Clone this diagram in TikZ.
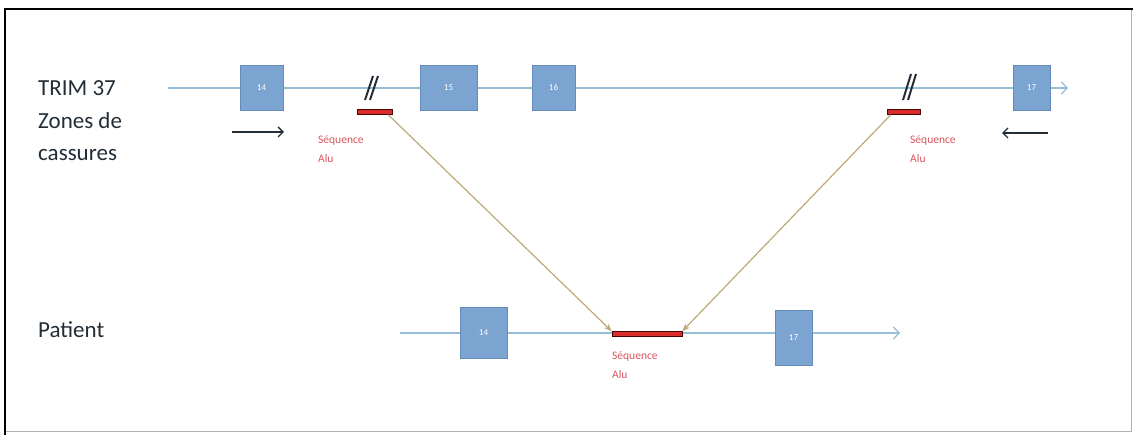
\documentclass[tikz,border=0pt]{standalone}
\usepackage{fontspec}
\setmainfont{Carlito}
\usetikzlibrary{arrows.meta}
\definecolor{azulcaixa}{RGB}{124,164,208}
\definecolor{bordacaixa}{RGB}{100,140,185}
\definecolor{azullinha}{RGB}{150,190,215}
\definecolor{vermelhoalu}{RGB}{215,45,45}
\definecolor{textoalu}{RGB}{215,85,95}
\definecolor{oliva}{RGB}{190,170,120}
\definecolor{escuro}{RGB}{35,45,55}
\tikzset{
  exon/.style={draw=bordacaixa, fill=azulcaixa, rectangle, minimum height=45pt, inner sep=0pt, text=white, font=\fontsize{9}{10}\selectfont},
  linha/.style={azullinha, line width=1.2pt, -{Straight Barb[length=6pt, width=12pt, line width=1.2pt]}},
  alubar/.style={draw=black!70!red, fill=vermelhoalu, rectangle, minimum height=5pt, inner sep=0pt},
  alutexto/.style={text=textoalu, align=left, anchor=north west, inner sep=0pt, font=\fontsize{11.5}{19}\selectfont},
  rotulo/.style={text=escuro, anchor=west, inner sep=0pt, font=\fontsize{23}{26}\selectfont},
  quebra/.style={escuro, line width=2pt},
  ligacao/.style={oliva, line width=1.2pt, -{Stealth[length=8pt, width=6pt]}}
}
\begin{document}
\begin{tikzpicture}[x=1pt, y=-1pt]
    \useasboundingbox (0,0) rectangle (1133,435);
    % Moldura
    \draw[black!30, line width=1pt] (1131,9) -- (1131,432) -- (5,432);
    \draw[black, line width=2.5pt] (1133,9) -- (5,9) -- (5,435);

    % Rótulos
    \node[rotulo] (trim) at (38,88) {TRIM 37};
    \node[rotulo] (zones) at (38,121) {Zones de};
    \node[rotulo] (cass) at (38,155) {cassures};
    \node[rotulo] (patient) at (38,330) {Patient};

    % Linha de cima
    \coordinate (ini1) at (168,88);
    \coordinate (fim1) at (1068,88);
    \draw[linha] (ini1) -- (fim1);
    \node[exon, minimum width=43pt] (e14) at (261.5,87.5) {14};
    \node[exon, minimum width=57pt] (e15) at (448.5,87.5) {15};
    \node[exon, minimum width=43pt] (e16) at (553.5,87.5) {16};
    \node[exon, minimum width=37pt] (e17) at (1031.5,87.5) {17};

    % Zonas de quebra
    \draw[quebra] (365,100) -- (373,76) (370,100) -- (378,76);
    \draw[quebra] (903,100) -- (911,74) (908,100) -- (916,74);
    \node[alubar, minimum width=35pt] (alu1) at (374.5,112) {};
    \node[alubar, minimum width=33pt] (alu2) at (903.5,112) {};
    \node[alutexto] (t1) at (318,135) {Séquence\\Alu};
    \node[alutexto] (t2) at (910,135) {Séquence\\Alu};

    % Setas pequenas
    \coordinate (s1a) at (232,132);
    \coordinate (s1b) at (284,132);
    \coordinate (s2a) at (1048,133);
    \coordinate (s2b) at (1002,133);
    \draw[escuro, line width=1.4pt, -{Straight Barb[length=5pt, width=10pt]}] (s1a) -- (s1b);
    \draw[escuro, line width=1.4pt, -{Straight Barb[length=5pt, width=10pt]}] (s2a) -- (s2b);

    % Linha do paciente
    \coordinate (ini2) at (400,333);
    \coordinate (fim2) at (900,333);
    \draw[linha] (ini2) -- (fim2);
    \node[exon, minimum width=47pt, minimum height=51pt] (p14) at (483.5,332.5) {14};
    \node[exon, minimum width=37pt, minimum height=55pt] (p17) at (793.5,337.5) {17};
    \node[alubar, minimum width=70pt] (alu3) at (647,334) {};
    \node[alutexto] (t3) at (612,351) {Séquence\\Alu};

    % Ligações
    \draw[ligacao] ([xshift=-4pt]alu1.south east) -- (alu3.north west);
    \draw[ligacao] ([xshift=4pt]alu2.south west) -- (alu3.north east);
\end{tikzpicture}
\end{document}
